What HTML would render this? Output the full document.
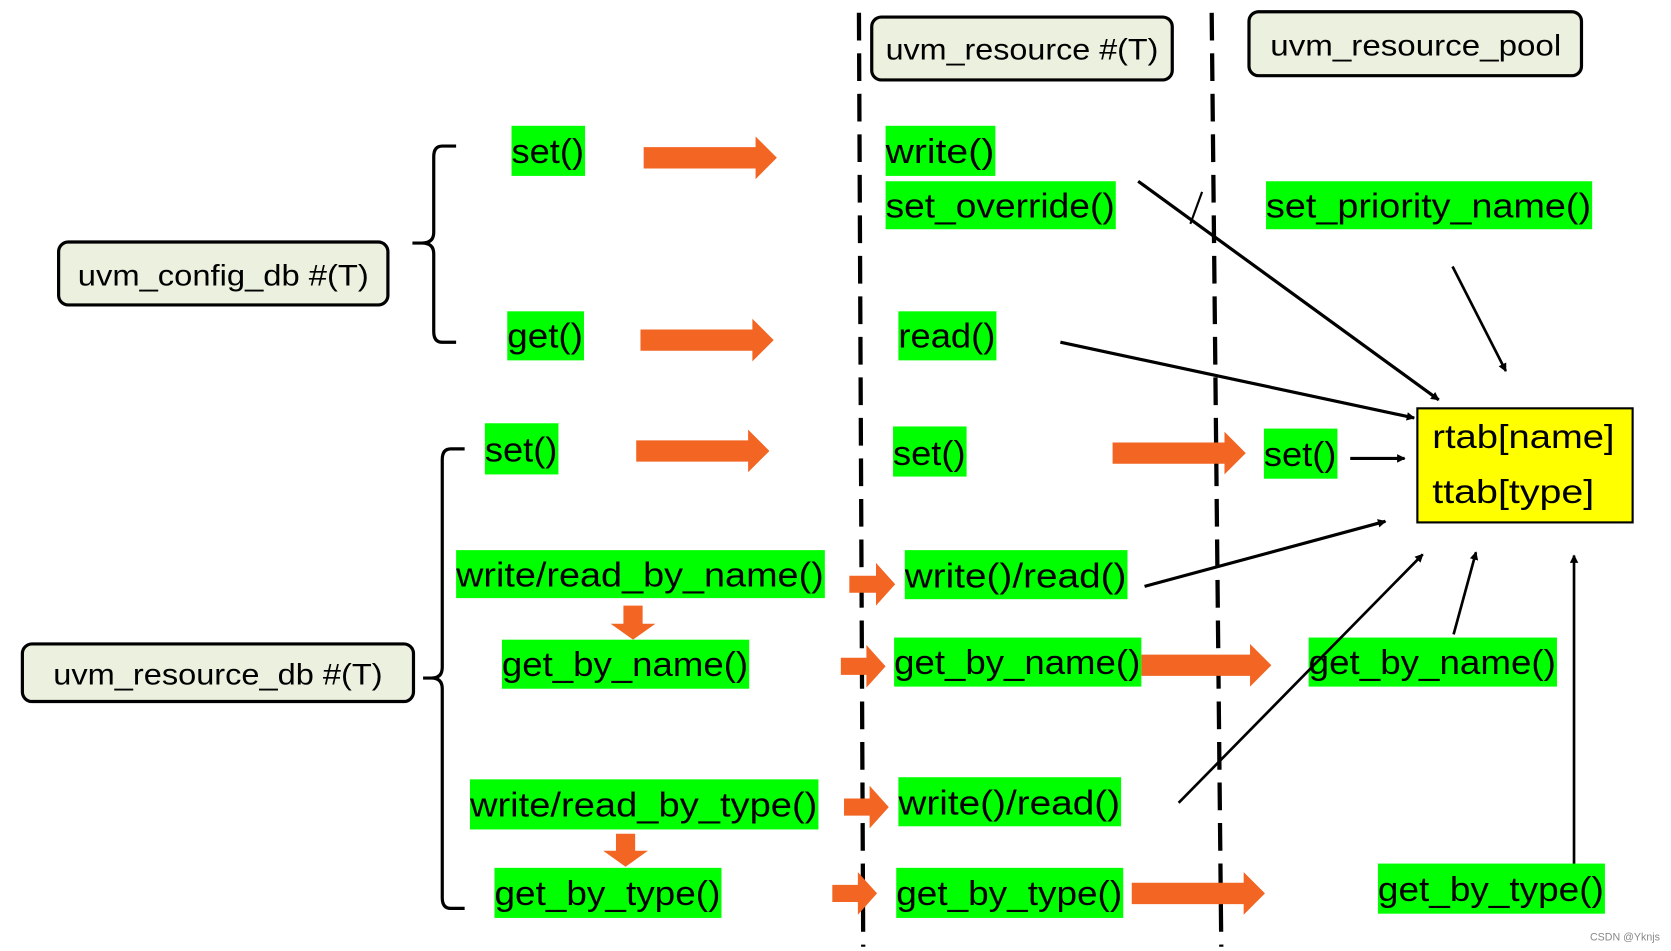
<!DOCTYPE html>
<html><head><meta charset="utf-8"><style>
html,body{margin:0;padding:0;background:#fff;}
svg{display:block;}
text{font-family:"Liberation Sans",sans-serif;}
</style></head><body>
<svg width="1671" height="951" viewBox="0 0 1568 892" preserveAspectRatio="none" xmlns="http://www.w3.org/2000/svg">
<defs>
<marker id="ah" markerWidth="8" markerHeight="8" refX="7" refY="4" orient="auto" markerUnits="userSpaceOnUse"><path d="M0,0 L8,4 L0,8 z" fill="#000"/></marker>
</defs>
<line x1="806" y1="12" x2="810" y2="888" stroke="#000" stroke-width="4" stroke-dasharray="26,12"/>
<line x1="1137" y1="12" x2="1146" y2="888" stroke="#000" stroke-width="4" stroke-dasharray="26,12"/>
<g fill="#ebf1de" stroke="#000" stroke-width="3">
<rect x="818" y="16" width="282" height="59" rx="9"/>
<rect x="1172" y="11" width="312" height="60" rx="9"/>
<rect x="55" y="227" width="309" height="59" rx="9"/>
<rect x="21" y="604" width="367" height="54" rx="9"/>
</g>
<g font-size="28" fill="#000">
<text x="831" y="56" textLength="256" lengthAdjust="spacingAndGlyphs">uvm_resource #(T)</text>
<text x="1192" y="52" textLength="273" lengthAdjust="spacingAndGlyphs">uvm_resource_pool</text>
<text x="73" y="268" textLength="273" lengthAdjust="spacingAndGlyphs">uvm_config_db #(T)</text>
<text x="50" y="642" textLength="309" lengthAdjust="spacingAndGlyphs">uvm_resource_db #(T)</text>
</g>
<path d="M428,137 L415,137 Q407,137 407,147 L407,218 Q407,228 396,228 L387,228 M396,228 Q407,228 407,238 L407,311 Q407,321 415,321 L428,321" fill="none" stroke="#000" stroke-width="3"/>
<path d="M436,421 L423,421 Q415,421 415,431 L415,626 Q415,636 405,636 L397,636 M405,636 Q415,636 415,646 L415,842 Q415,852 423,852 L436,852" fill="none" stroke="#000" stroke-width="3"/>
<rect x="1330" y="383" width="202" height="107" fill="#ffff00" stroke="#000" stroke-width="2"/>
<g font-size="31" fill="#000">
<text x="1344" y="420" textLength="171" lengthAdjust="spacingAndGlyphs">rtab[name]</text>
<text x="1344" y="472" textLength="152" lengthAdjust="spacingAndGlyphs">ttab[type]</text>
</g>
<g fill="#00ff00">
<rect x="480" y="118" width="69" height="47"/>
<rect x="831" y="118" width="103" height="47"/>
<rect x="831" y="170" width="216" height="45"/>
<rect x="1188" y="170" width="306" height="45"/>
<rect x="476" y="292" width="72" height="46"/>
<rect x="843" y="292" width="92" height="46"/>
<rect x="455" y="397" width="69" height="48"/>
<rect x="838" y="400" width="69" height="47"/>
<rect x="1186" y="402" width="69" height="47"/>
<rect x="428" y="516" width="346" height="45"/>
<rect x="849" y="516" width="209" height="46"/>
<rect x="471" y="600" width="232" height="46"/>
<rect x="839" y="598" width="232" height="46"/>
<rect x="1228" y="598" width="233" height="46"/>
<rect x="441" y="731" width="327" height="47"/>
<rect x="843" y="729" width="209" height="46"/>
<rect x="464" y="814" width="213" height="47"/>
<rect x="841" y="814" width="213" height="47"/>
<rect x="1293" y="810" width="213" height="47"/>
</g>
<g font-size="32" fill="#000">
<text x="480" y="153" textLength="68" lengthAdjust="spacingAndGlyphs">set()</text>
<text x="831" y="153" textLength="102" lengthAdjust="spacingAndGlyphs">write()</text>
<text x="831" y="204" textLength="215" lengthAdjust="spacingAndGlyphs">set_override()</text>
<text x="1188" y="204" textLength="305" lengthAdjust="spacingAndGlyphs">set_priority_name()</text>
<text x="476" y="326" textLength="71" lengthAdjust="spacingAndGlyphs">get()</text>
<text x="843" y="326" textLength="91" lengthAdjust="spacingAndGlyphs">read()</text>
<text x="455" y="433" textLength="68" lengthAdjust="spacingAndGlyphs">set()</text>
<text x="838" y="436" textLength="68" lengthAdjust="spacingAndGlyphs">set()</text>
<text x="1186" y="437" textLength="68" lengthAdjust="spacingAndGlyphs">set()</text>
<text x="428" y="550" textLength="345" lengthAdjust="spacingAndGlyphs">write/read_by_name()</text>
<text x="849" y="551" textLength="208" lengthAdjust="spacingAndGlyphs">write()/read()</text>
<text x="471" y="634" textLength="231" lengthAdjust="spacingAndGlyphs">get_by_name()</text>
<text x="839" y="632" textLength="231" lengthAdjust="spacingAndGlyphs">get_by_name()</text>
<text x="1228" y="632" textLength="232" lengthAdjust="spacingAndGlyphs">get_by_name()</text>
<text x="441" y="766" textLength="326" lengthAdjust="spacingAndGlyphs">write/read_by_type()</text>
<text x="843" y="764" textLength="208" lengthAdjust="spacingAndGlyphs">write()/read()</text>
<text x="464" y="849" textLength="212" lengthAdjust="spacingAndGlyphs">get_by_type()</text>
<text x="841" y="849" textLength="212" lengthAdjust="spacingAndGlyphs">get_by_type()</text>
<text x="1293" y="845" textLength="212" lengthAdjust="spacingAndGlyphs">get_by_type()</text>
</g>
<g fill="#f26522">
<path d="M604,138 H709 V128 L729,148 L709,168 V158 H604 Z"/>
<path d="M601,309 H706 V299 L726,319 L706,339 V329 H601 Z"/>
<path d="M597,413 H702 V403 L722,423 L702,443 V433 H597 Z"/>
<path d="M1044,415 H1149 V405 L1169,425 L1149,445 V435 H1044 Z"/>
<path d="M1071,614 H1173 V604 L1193,624 L1173,644 V634 H1071 Z"/>
<path d="M1062,828 H1167 V818 L1187,838 L1167,858 V848 H1062 Z"/>
<path d="M797,540 H822 V528 L840,548 L822,568 V556 H797 Z"/>
<path d="M789,617 H813 V605 L831,625 L813,645 V633 H789 Z"/>
<path d="M792,749 H816 V737 L834,757 L816,777 V765 H792 Z"/>
<path d="M781,830 H805 V818 L823,838 L805,858 V846 H781 Z"/>
<path d="M585,568 H603 V585 H615 L594,600 L573,585 H585 Z"/>
<path d="M578,782 H596 V798 H608 L587,813 L566,798 H578 Z"/>
</g>
<g stroke="#000" stroke-width="3" fill="none">
<line x1="1068" y1="170" x2="1350" y2="375" marker-end="url(#ah)"/>
<line x1="1128" y1="180" x2="1117" y2="210" stroke-width="2"/>
<line x1="995" y1="321" x2="1327" y2="392" marker-end="url(#ah)"/>
<line x1="1363" y1="250" x2="1413" y2="348" stroke-width="2.5" marker-end="url(#ah)"/>
<line x1="1267" y1="430" x2="1318" y2="430" marker-end="url(#ah)"/>
<line x1="1074" y1="550" x2="1300" y2="489" marker-end="url(#ah)"/>
<line x1="1106" y1="753" x2="1335" y2="520" stroke-width="2.5" marker-end="url(#ah)"/>
<line x1="1364" y1="595" x2="1385" y2="518" stroke-width="2.5" marker-end="url(#ah)"/>
<line x1="1477" y1="810" x2="1477" y2="521" stroke-width="2.5" marker-end="url(#ah)"/>
</g>
<text x="1492" y="882" font-size="10" fill="#888">CSDN @Yknjs</text>
</svg>
</body></html>
